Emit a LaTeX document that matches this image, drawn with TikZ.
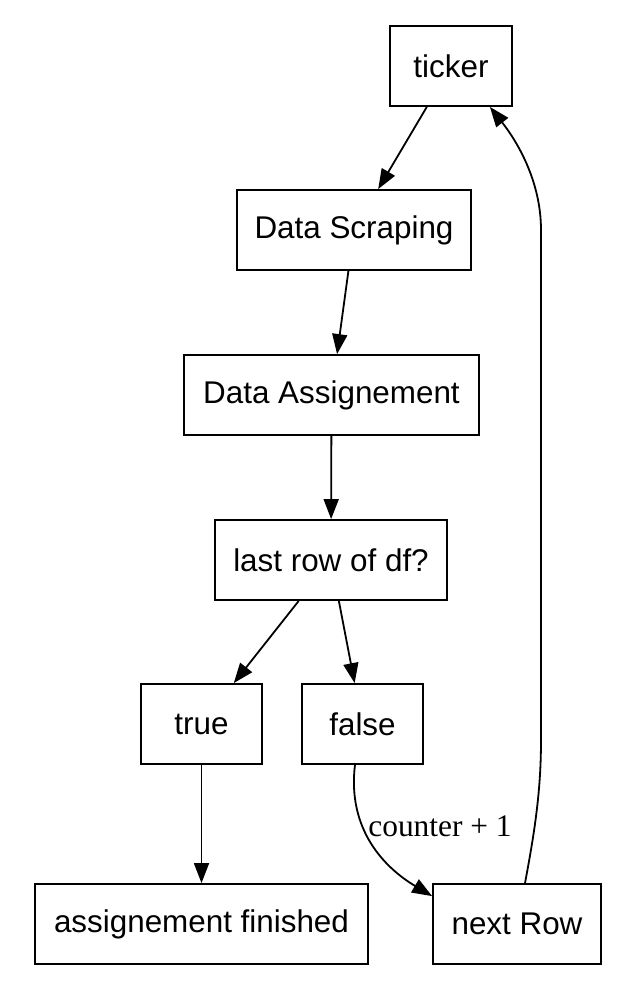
\documentclass[tikz,border=0pt]{standalone}
\usepackage{fontspec}
\setmainfont{Liberation Sans}
\newfontfamily\labelfont{Liberation Serif}
\usetikzlibrary{arrows.meta}
\begin{document}
\begin{tikzpicture}[x=0.5pt,y=-0.5pt,
  box/.style={draw, line width=0.9pt, inner sep=0pt, minimum height=40pt,
    font=\fontsize{15.7pt}{18pt}\selectfont},
  conn/.style={line width=0.9pt, -{Triangle[length=10pt,width=7.5pt]}}]
\useasboundingbox (0,0) rectangle (642,981);
\node[box, minimum width=61pt] (ticker) at (451,66) {ticker};
\node[box, minimum width=117pt] (scrap) at (354,230) {Data Scraping};
\node[box, minimum width=147.5pt] (assign) at (331.5,395) {Data Assignement};
\node[box, minimum width=116pt] (last) at (331,560) {last row of df?};
\node[box, minimum width=60.5pt] (true) at (201.5,724) {true};
\node[box, minimum width=60.5pt] (false) at (362.5,724) {false};
\node[box, minimum width=166.5pt] (fin) at (201.5,924) {assignement finished};
\node[box, minimum width=84pt] (next) at (517,924) {next Row};
\draw[conn] (ticker) -- (scrap);
\draw[conn] (scrap) -- (assign);
\draw[conn] (assign) -- (last);
\draw[conn] (last) -- (true);
\draw[conn] (last) -- (false);
\draw[conn] (true) -- (fin);
\draw[conn] ([xshift=-3.75pt]false.south) .. controls (347,830) and (385,868) .. ([yshift=-6.5pt]next.north west);
\node[font=\labelfont\fontsize{15.7pt}{18pt}\selectfont] (lbl) at (440,826) {counter + 1};
\draw[conn] ([xshift=4pt]next.north) .. controls (535,830) and (541,790) .. (541,740) -- (541,230) .. controls (541,180) and (516,140) .. ([xshift=-11.5pt]ticker.south east);
\end{tikzpicture}
\end{document}
